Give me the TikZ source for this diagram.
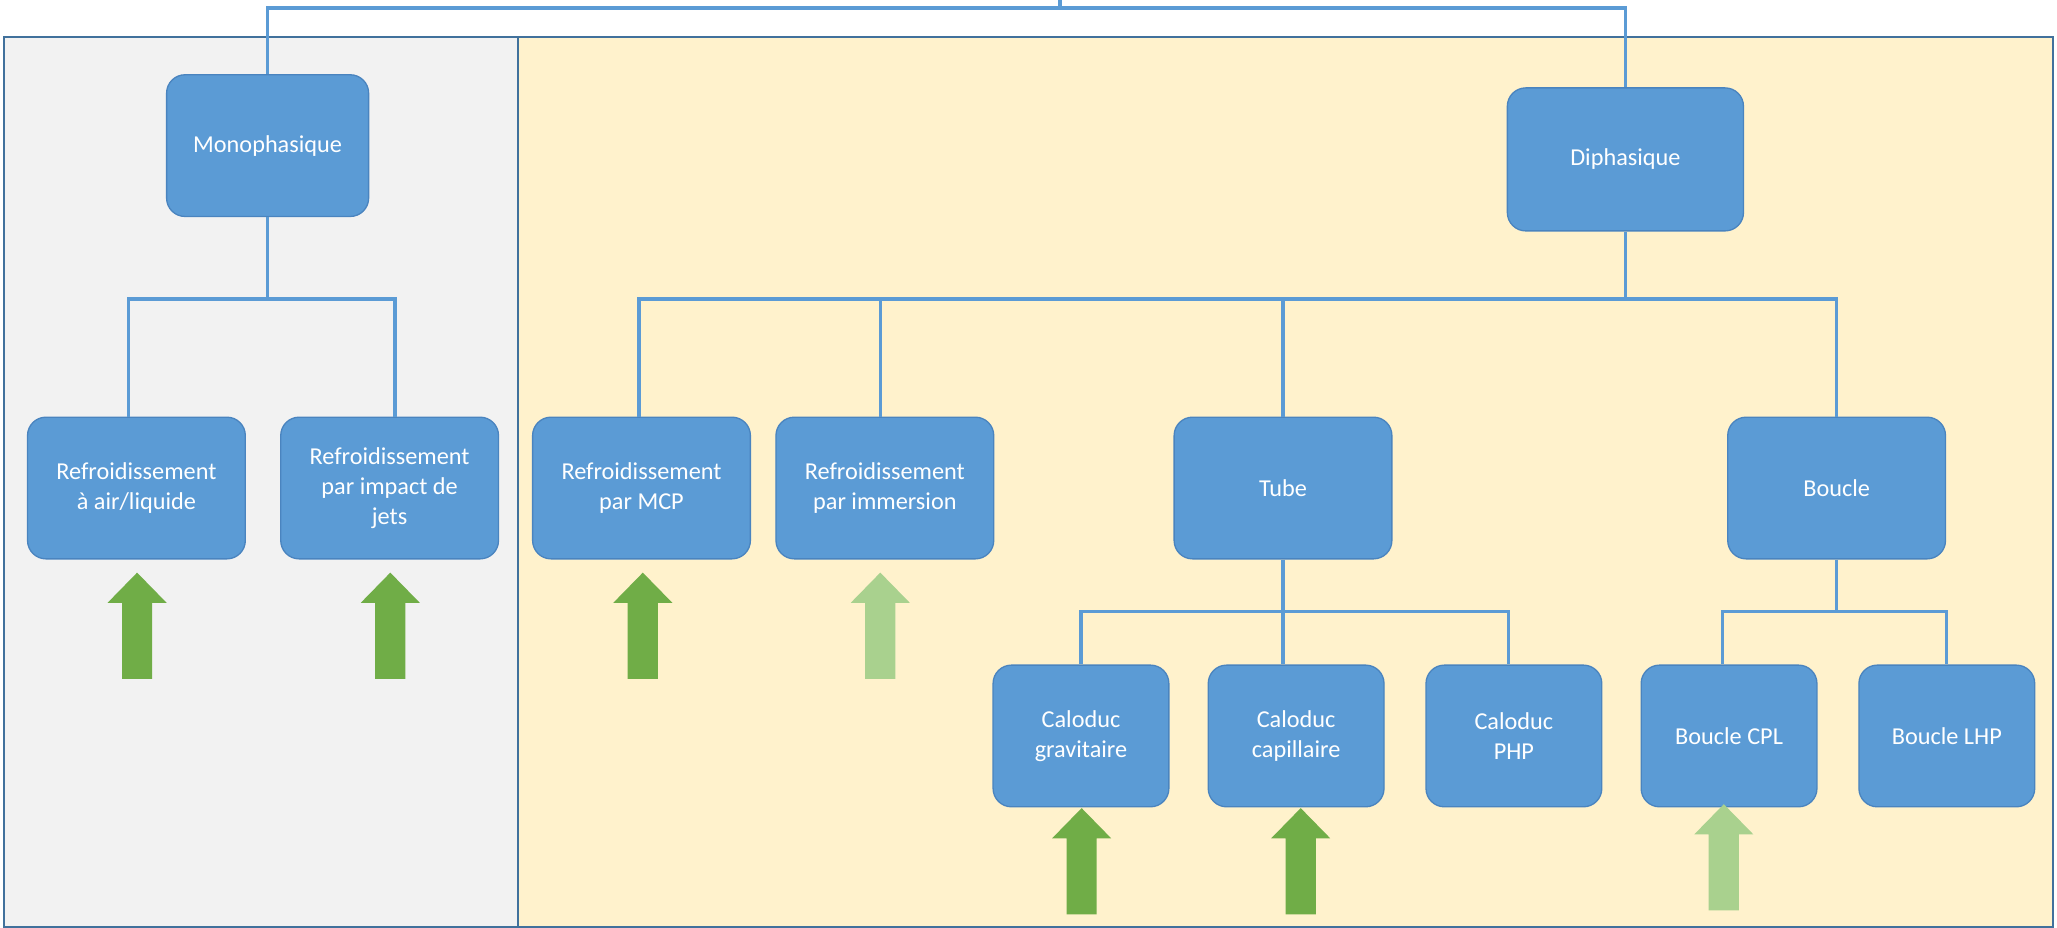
\documentclass[tikz,border=0pt]{standalone}
\usepackage{fontspec}
\setmainfont{Carlito}
\definecolor{boxblue}{HTML}{5B9BD5}
\definecolor{boxedge}{HTML}{4A84BF}
\definecolor{linkblue}{HTML}{5B9BD5}
\definecolor{framec}{HTML}{41719C}
\definecolor{graybg}{HTML}{F2F2F2}
\definecolor{yellowbg}{HTML}{FFF2CC}
\definecolor{arrdark}{HTML}{70AD47}
\definecolor{arrlight}{HTML}{A9D18E}
\tikzset{
  cbox/.style={rectangle, rounded corners=14pt, fill=boxblue, draw=boxedge, line width=1pt,
    text=white, align=center, inner sep=0pt, minimum height=108pt,
    font=\fontsize{18.5}{23}\selectfont},
  widebox/.style={cbox, minimum width=166pt},
  smallbox/.style={cbox, minimum width=134pt},
  link/.style={draw=linkblue, line width=2.5pt},
  panelframe/.style={draw=framec, line width=1.5pt},
  uparr/.pic={\path[pic actions] (-11.5,0) -- (-11.5,-58) -- (-22.5,-58) -- (0,-81) -- (22.5,-58) -- (11.5,-58) -- (11.5,0) -- cycle;}
}
\begin{document}
\begin{tikzpicture}[x=1pt,y=-1pt]
\useasboundingbox (0,0) rectangle (1568,707);
\fill[white] (0,0) rectangle (1568,707);
% panels
\fill[graybg] (3,28.5) rectangle (395,707);
\fill[yellowbg] (395,28.5) rectangle (1565,707);
\draw[panelframe] (3,28.5) rectangle (1565,706.5);
\draw[panelframe] (395,28.5) -- (395,707);

% bus levels
\coordinate (topbus) at (0,6);
\coordinate (bus1) at (0,228);
\coordinate (bus2) at (0,466);
\coordinate (root) at (808,0);

% level 1
\node[cbox, minimum width=154pt] (mono) at (204,111) {Monophasique};
\node[cbox, minimum width=180pt, minimum height=109pt] (di) at (1239,121.5) {Diphasique};

% level 2
\node[widebox] (air) at (104,372) {Refroidissement\\à air/liquide};
\node[widebox] (jets) at (297,372) {Refroidissement\\par impact de\\jets};
\node[widebox] (mcp) at (489,372) {Refroidissement\\par MCP};
\node[widebox] (imm) at (674.5,372) {Refroidissement\\par immersion};
\node[widebox] (tube) at (978,372) {Tube};
\node[widebox] (bou) at (1400,372) {Boucle};

% level 3
\node[smallbox] (grav) at (824,561) {Caloduc\\gravitaire};
\node[smallbox] (capi) at (988,561) {Caloduc\\capillaire};
\node[smallbox] (php) at (1154,561) {Caloduc\\PHP};
\node[smallbox] (cpl) at (1318,561) {Boucle CPL};
\node[smallbox] (lhp) at (1484,561) {Boucle LHP};

% connectors
\draw[link] (root) -- (root |- topbus);
\draw[link] (mono.north) -- (mono.north |- topbus) -- (di.north |- topbus) -- (di.north);

\draw[link] (mono.south) -- (mono.south |- bus1);
\draw[link] ([xshift=-6pt]air.north) -- ([xshift=-6pt]air.north |- bus1) -- ([xshift=4pt]jets.north |- bus1) -- ([xshift=4pt]jets.north);

\draw[link] (di.south) -- (di.south |- bus1);
\draw[link] ([xshift=-2pt]mcp.north) -- ([xshift=-2pt]mcp.north |- bus1) -- (bou.north |- bus1) -- (bou.north);
\draw[link] ([xshift=-3.5pt]imm.north) -- ([xshift=-3.5pt]imm.north |- bus1);
\draw[link] (tube.north) -- (tube.north |- bus1);

\draw[link] (tube.south) -- (tube.south |- capi.north);
\draw[link] (grav.north) -- (grav.north |- bus2) -- ([xshift=-4pt]php.north |- bus2) -- ([xshift=-4pt]php.north);

\draw[link] (bou.south) -- (bou.south |- bus2);
\draw[link] ([xshift=-5pt]cpl.north) -- ([xshift=-5pt]cpl.north |- bus2) -- (lhp.north |- bus2) -- (lhp.north);

% green arrows
\pic[fill=arrdark] at (104.5,517.5) {uparr};
\pic[fill=arrdark] at (297.5,517.5) {uparr};
\pic[fill=arrdark] at (490,517.5) {uparr};
\pic[fill=arrlight] at (671,517.5) {uparr};
\pic[fill=arrdark] at (824.5,697) {uparr};
\pic[fill=arrdark] at (991.5,697) {uparr};
\pic[fill=arrlight] at (1314,694) {uparr};
\end{tikzpicture}
\end{document}
